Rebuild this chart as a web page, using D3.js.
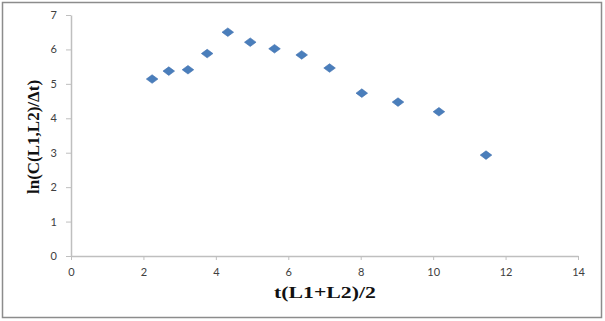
<!DOCTYPE html>
<html>
<head>
<meta charset="utf-8">
<script src="https://cdn.jsdelivr.net/npm/d3@7"></script>
<style>
  html, body { margin: 0; padding: 0; background: #fff; }
  svg { display: block; }
</style>
</head>
<body>
<svg id="chart" width="605" height="321"></svg>
<script>
const xValues = [2.24, 2.70, 3.23, 3.76, 4.33, 4.95, 5.62, 6.37, 7.14, 8.03, 9.03, 10.16, 11.46];
const yValues = [5.14, 5.37, 5.41, 5.88, 6.50, 6.21, 6.02, 5.84, 5.46, 4.73, 4.47, 4.19, 2.93];
const xTicks = [0, 2, 4, 6, 8, 10, 12, 14];
const yTicks = [0, 1, 2, 3, 4, 5, 6, 7];
const xTitle = "t(L1+L2)/2";
const yTitle = "ln(C(L1,L2)/\u0394t)";

const svg = d3.select("#chart");

svg.append("rect")
  .attr("x", 2.5).attr("y", 2.5)
  .attr("width", 599).attr("height", 315)
  .attr("fill", "#fff").attr("stroke", "#8c8c8c").attr("stroke-width", 1.5);

const x = d3.scaleLinear().domain([0, 14]).range([71, 578]);
const y = d3.scaleLinear().domain([0, 7]).range([256, 15]);

const axisColor = "#bfbfbf";
const labelColor = "#404040";
const tickFont = "Lato, 'Open Sans', 'Liberation Sans', sans-serif";

const xAxis = svg.append("g")
  .attr("transform", `translate(0,${y(0)})`)
  .call(d3.axisBottom(x).tickValues(xTicks).tickFormat(d3.format("d")).tickSize(4).tickPadding(8).tickSizeOuter(0));
const yAxis = svg.append("g")
  .attr("transform", `translate(${x(0)},0)`)
  .call(d3.axisLeft(y).tickValues(yTicks).tickFormat(d3.format("d")).tickSize(5).tickPadding(9).tickSizeOuter(0));

[xAxis, yAxis].forEach(g => {
  g.select(".domain").attr("stroke", axisColor).attr("stroke-width", 1.5);
  g.selectAll(".tick line").attr("stroke", axisColor).attr("stroke-width", 1);
  g.selectAll(".tick text")
    .attr("fill", labelColor)
    .style("font-family", tickFont)
    .style("font-size", "11px");
});

const hw = 5.8, hh = 4.3;
const diamondPath = `M0,${-hh}L${hw},0L0,${hh}L${-hw},0Z`;
svg.append("g").selectAll("path")
  .data(xValues.map((v, i) => [v, yValues[i]]))
  .join("path")
  .attr("d", diamondPath)
  .attr("transform", d => `translate(${x(d[0])},${y(d[1])})`)
  .attr("fill", "#4a7ebb")
  .attr("stroke", "#3e6fae")
  .attr("stroke-width", 0.6);

svg.append("text")
  .attr("transform", "translate(325,298) scale(1.28,1)")
  .attr("text-anchor", "middle")
  .style("font-family", "'Liberation Serif', 'Times New Roman', serif")
  .style("font-weight", "bold")
  .style("font-size", "17px")
  .attr("fill", "#111")
  .text(xTitle);

svg.append("text")
  .attr("transform", "translate(39,137) rotate(-90)")
  .attr("text-anchor", "middle")
  .style("font-family", "'Liberation Serif', 'Times New Roman', serif")
  .style("font-weight", "bold")
  .style("font-size", "17px")
  .attr("fill", "#111")
  .text(yTitle);
</script>
</body>
</html>
